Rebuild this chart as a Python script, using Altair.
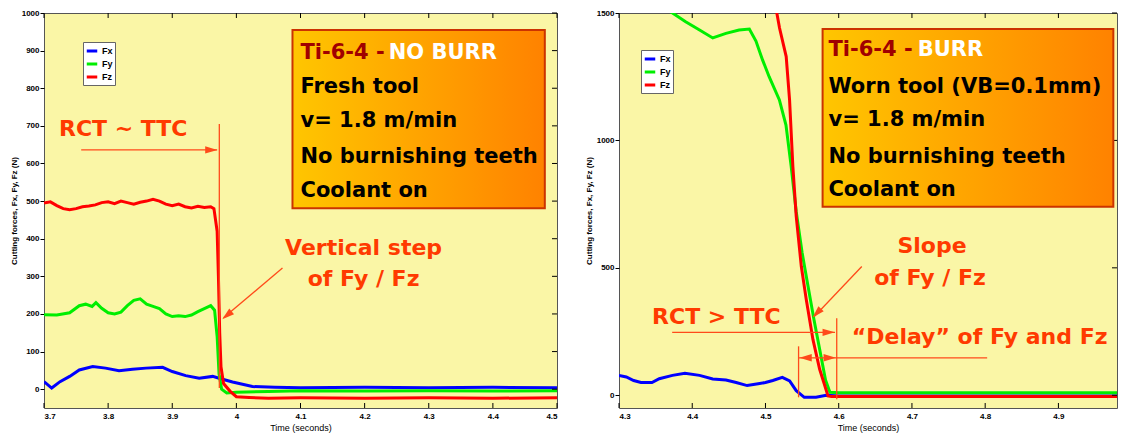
import altair as alt
import pandas as pd

SERIES = ["Fx", "Fy", "Fz"]
COLORS = ["#0000FF", "#00EE00", "#FF0000"]

# ---------------- left panel data (Ti-6-4, no burr) ----------------
L_X_TICKS = [3.7, 3.8, 3.9, 4.0, 4.1, 4.2, 4.3, 4.4, 4.5]
L_Y_TICKS = [0, 100, 200, 300, 400, 500, 600, 700, 800, 900, 1000]

L_FX_T = [3.70, 3.712, 3.725, 3.74, 3.755, 3.776, 3.796, 3.817, 3.838, 3.859, 3.885, 3.90,
          3.921, 3.942, 3.963, 3.973, 3.994, 4.025, 4.06, 4.1, 4.2, 4.3, 4.4, 4.5]
L_FX_V = [20, 3, 20, 34, 51, 60, 56, 49, 53, 56, 58, 47,
          36, 29, 34, 29, 19, 7, 5, 4, 5, 4, 5, 4]

L_FY_T = [3.70, 3.72, 3.74, 3.755, 3.765, 3.775, 3.781, 3.79, 3.80, 3.81, 3.82, 3.83, 3.84,
          3.85, 3.86, 3.87, 3.88, 3.89, 3.90, 3.91, 3.92, 3.93, 3.94, 3.95, 3.96, 3.966,
          3.970, 3.973, 3.977, 3.985, 4.0, 4.05, 4.1, 4.2, 4.3, 4.4, 4.5]
L_FY_V = [198, 197, 203, 222, 226, 220, 230, 215, 203, 200, 205, 222, 236,
          240, 226, 220, 214, 200, 193, 195, 193, 197, 206, 214, 222, 210,
          140, 40, 0, -10, -8, -6, -4, -5, -4, -5, -4]

L_FZ_T = [3.70, 3.71, 3.72, 3.73, 3.74, 3.75, 3.76, 3.77, 3.78, 3.79, 3.80, 3.81, 3.82,
          3.83, 3.84, 3.85, 3.86, 3.87, 3.88, 3.89, 3.90, 3.91, 3.92, 3.93, 3.94, 3.95,
          3.96, 3.965, 3.970, 3.972, 3.974, 3.976, 3.98, 3.99, 4.0, 4.02, 4.05, 4.1,
          4.2, 4.3, 4.4, 4.5]
L_FZ_V = [495, 498, 488, 480, 477, 480, 485, 487, 490, 496, 498, 493, 500,
          496, 492, 497, 500, 505, 500, 492, 488, 492, 485, 482, 486, 483,
          485, 480, 420, 300, 150, 60, 15, -5, -20, -22, -24, -23,
          -24, -23, -24, -23]

# ---------------- right panel data (Ti-6-4, burr) ----------------
R_X_TICKS = [4.3, 4.4, 4.5, 4.6, 4.7, 4.8, 4.9]
R_Y_TICKS = [0, 500, 1000, 1500]

R_FX_T = [4.30, 4.31, 4.32, 4.33, 4.345, 4.355, 4.373, 4.39, 4.41, 4.428, 4.446, 4.46,
          4.475, 4.49, 4.50, 4.51, 4.523, 4.533, 4.542, 4.553, 4.569, 4.583, 4.6, 4.7,
          4.8, 4.98]
R_FX_V = [78, 72, 58, 50, 50, 65, 78, 86, 78, 64, 60, 50,
          38, 45, 50, 58, 70, 56, 18, -8, -8, 0, -3, -3,
          -3, -3]

R_FY_T = [4.30, 4.34, 4.373, 4.391, 4.41, 4.428, 4.446, 4.464, 4.478, 4.487, 4.496,
          4.505, 4.519, 4.528, 4.535, 4.542, 4.55, 4.558, 4.566, 4.574, 4.582, 4.588,
          4.6, 4.7, 4.8, 4.98]
R_FY_V = [1620, 1560, 1500, 1466, 1433, 1402, 1420, 1433, 1437, 1390, 1316,
          1250, 1159, 1060, 900, 720, 560, 430, 300, 180, 60, 12,
          10, 10, 10, 10]

R_FZ_T = [4.30, 4.50, 4.5155, 4.5192, 4.5283, 4.5329, 4.5374, 4.542, 4.5489, 4.5557,
          4.5648, 4.574, 4.5854, 4.59, 4.7, 4.8, 4.98]
R_FZ_V = [1900, 1700, 1500, 1441, 1329, 1159, 898, 702, 506, 376,
          219, 102, -3, -5, -5, -5, -5]

FONT = "DejaVu Sans"
AX_FONT = "Liberation Sans"
ANN = "#FF3A00"
ARROW_PATH = "M0,-1L0.6,1L-0.6,1Z"


def series_df(ts_vs):
    rows = []
    for name, (ts, vs) in zip(SERIES, ts_vs):
        for t, v in zip(ts, vs):
            rows.append({"s": name, "t": t, "v": v})
    return pd.DataFrame(rows)


def make_axes(xticks, yticks):
    xaxis = alt.Axis(values=xticks, format=".1~f", title="Time (seconds)", ticks=False,
                     domain=False, grid=False, labelFont=AX_FONT, labelFontSize=8,
                     labelFontWeight="bold", labelPadding=4, labelColor="black",
                     titleFont=AX_FONT, titleFontSize=9, titleFontWeight="normal",
                     titlePadding=3, titleColor="black")
    yaxis = alt.Axis(values=yticks, format="d", title="Cutting forces, Fx, Fy, Fz (N)",
                     tickSize=4, tickColor="black", domain=False, grid=False,
                     labelFont=AX_FONT, labelFontSize=8, labelFontWeight="bold",
                     labelPadding=1, labelColor="black", titleFont=AX_FONT,
                     titleFontSize=8, titleFontWeight="bold", titlePadding=3,
                     titleColor="black")
    return xaxis, yaxis


def panel(df, xdom, ydom, xticks, yticks, w, h, leg_x, leg_y, box, box_lines, title_parts,
          texts, rules, heads):
    xaxis, yaxis = make_axes(xticks, yticks)

    def X(field="t"):
        return alt.X(f"{field}:Q", scale=alt.Scale(domain=xdom, nice=False, zero=False),
                     axis=xaxis)

    def Y(field="v"):
        return alt.Y(f"{field}:Q", scale=alt.Scale(domain=ydom, nice=False, zero=False),
                     axis=yaxis)

    lines = alt.Chart(df).mark_line(strokeWidth=3, clip=True).encode(
        x=X(), y=Y(),
        color=alt.Color("s:N", sort=SERIES,
                        scale=alt.Scale(domain=SERIES, range=COLORS),
                        legend=alt.Legend(orient="none", legendX=leg_x, legendY=leg_y,
                                          title=None, symbolType="stroke",
                                          symbolStrokeWidth=3, symbolSize=110,
                                          labelFont=AX_FONT, labelFontSize=9,
                                          labelFontWeight="bold", labelColor="black",
                                          padding=2, rowPadding=0, labelOffset=3,
                                          fillColor="white", strokeColor="#666")),
        detail="s:N",
    )
    xt = pd.DataFrame({"t": xticks})
    yt = pd.DataFrame({"v": yticks})
    tick_b = alt.Chart(xt).mark_rule(color="black").encode(
        x=X(), y=alt.value(h), y2=alt.value(h - 5))
    tick_t = alt.Chart(xt).mark_rule(color="black").encode(
        x=X(), y=alt.value(0), y2=alt.value(5))
    tick_r = alt.Chart(yt).mark_rule(color="black").encode(
        y=Y(), x=alt.value(w), x2=alt.value(w - 5))

    box_df = pd.DataFrame([box])
    grad = alt.Gradient(gradient="linear",
                        stops=[alt.GradientStop(color="#FFC600", offset=0),
                               alt.GradientStop(color="#FF8200", offset=1)],
                        x1=0, x2=1, y1=0, y2=0)
    rect = alt.Chart(box_df).mark_rect(fill=grad, stroke="#CC3300", strokeWidth=2).encode(
        x=X("x0"), x2="x1:Q", y=Y("y0"), y2="y1:Q")

    bl = pd.DataFrame(box_lines)
    box_txt = alt.Chart(bl).mark_text(font=FONT, fontSize=21, fontWeight="bold",
                                      align="left", baseline="middle", color="black").encode(
        x=X(), y=Y(), text="txt:N")
    tp = pd.DataFrame(title_parts)
    title_txt = alt.Chart(tp).mark_text(font=FONT, fontSize=21, fontWeight="bold",
                                        align="left", baseline="middle").encode(
        x=X(), y=Y(), text="txt:N", color=alt.Color("c:N", scale=None))

    ann = pd.DataFrame(texts)
    layers = []
    for al in ["left", "center"]:
        sub = ann[ann["al"] == al]
        if len(sub):
            layers.append(alt.Chart(sub).mark_text(font=FONT, fontSize=22, fontWeight="bold",
                                                   baseline="middle", align=al,
                                                   color=ANN).encode(
                x=X(), y=Y(), text="txt:N"))

    rl = pd.DataFrame(rules)
    rule = alt.Chart(rl).mark_rule(color="#FF4A1A", strokeWidth=1.3).encode(
        x=X("x0"), x2="x1:Q", y=Y("y0"), y2="y1:Q")
    hd = pd.DataFrame(heads)
    head = alt.Chart(hd).mark_point(shape=ARROW_PATH, filled=True, size=150, opacity=1,
                                    color="#FF4A1A").encode(
        x=X(), y=Y(), angle=alt.Angle("a:Q", scale=None))

    return alt.layer(lines, tick_b, tick_t, tick_r, rect, box_txt, title_txt, rule, head,
                     *layers).properties(width=w, height=h)


left = panel(
    series_df([(L_FX_T, L_FX_V), (L_FY_T, L_FY_V), (L_FZ_T, L_FZ_V)]),
    [3.7, 4.5], [-50, 1000], L_X_TICKS, L_Y_TICKS, 513, 395, 39, 29,
    {"x0": 4.0875, "x1": 4.481, "y0": 955, "y1": 481},
    [{"t": 4.1, "v": 803, "txt": "Fresh tool"},
     {"t": 4.1, "v": 713, "txt": "v= 1.8 m/min"},
     {"t": 4.1, "v": 617, "txt": "No burnishing teeth"},
     {"t": 4.1, "v": 527, "txt": "Coolant on"}],
    [{"t": 4.1, "v": 894, "txt": "Ti-6-4 -", "c": "#A00000"},
     {"t": 4.2375, "v": 894, "txt": "NO BURR", "c": "#FFFFFF"}],
    [{"t": 3.7234, "v": 691, "txt": "RCT ~ TTC", "al": "left"},
     {"t": 4.1984, "v": 375, "txt": "Vertical step", "al": "center"},
     {"t": 4.1984, "v": 293, "txt": "of Fy / Fz", "al": "center"}],
    [{"x0": 3.758, "x1": 3.970, "y0": 636, "y1": 636},
     {"x0": 3.9734, "x1": 3.9734, "y0": 705, "y1": 3},
     {"x0": 4.0719, "x1": 3.980, "y0": 322, "y1": 190}],
    [{"t": 3.9609, "v": 636, "a": 90},
     {"t": 3.9853, "v": 196.5, "a": 230}],
)

right = panel(
    series_df([(R_FX_T, R_FX_V), (R_FY_T, R_FY_V), (R_FZ_T, R_FZ_V)]),
    [4.3, 4.98], [-50, 1500], R_X_TICKS, R_Y_TICKS, 498, 395, 22, 37,
    {"x0": 4.578, "x1": 4.975, "y0": 1437, "y1": 740},
    [{"t": 4.586, "v": 1210, "txt": "Worn tool (VB=0.1mm)"},
     {"t": 4.586, "v": 1081, "txt": "v= 1.8 m/min"},
     {"t": 4.586, "v": 936, "txt": "No burnishing teeth"},
     {"t": 4.586, "v": 807, "txt": "Coolant on"}],
    [{"t": 4.586, "v": 1355, "txt": "Ti-6-4 -", "c": "#A00000"},
     {"t": 4.708, "v": 1355, "txt": "BURR", "c": "#FFFFFF"}],
    [{"t": 4.7274, "v": 584, "txt": "Slope", "al": "center"},
     {"t": 4.7247, "v": 462, "txt": "of Fy / Fz", "al": "center"},
     {"t": 4.3452, "v": 306, "txt": "RCT > TTC", "al": "left"},
     {"t": 4.6178, "v": 227, "txt": "\u201cDelay\u201d of Fy and Fz", "al": "left"}],
    [{"x0": 4.3726, "x1": 4.5950, "y0": 247, "y1": 247},
     {"x0": 4.5973, "x1": 4.5973, "y0": 302, "y1": -16},
     {"x0": 4.5452, "x1": 4.5452, "y0": 192, "y1": -8},
     {"x0": 4.5452, "x1": 4.8027, "y0": 147, "y1": 147},
     {"x0": 4.6315, "x1": 4.5670, "y0": 505, "y1": 310}],
    [{"t": 4.5863, "v": 247, "a": 90},
     {"t": 4.5877, "v": 147, "a": 90},
     {"t": 4.5548, "v": 147, "a": 270},
     {"t": 4.5701, "v": 322, "a": 224}],
)

chart = alt.hconcat(left, right, spacing=26).resolve_scale(
    color="independent").resolve_legend(color="independent").properties(
    padding={"left": 1, "top": 0, "right": 0, "bottom": 0},
    background="white",
).configure_view(fill="#FAF6A6", stroke="#555555", strokeWidth=1)

chart.save("out.html", embed_options={"renderer": "svg", "actions": False})
